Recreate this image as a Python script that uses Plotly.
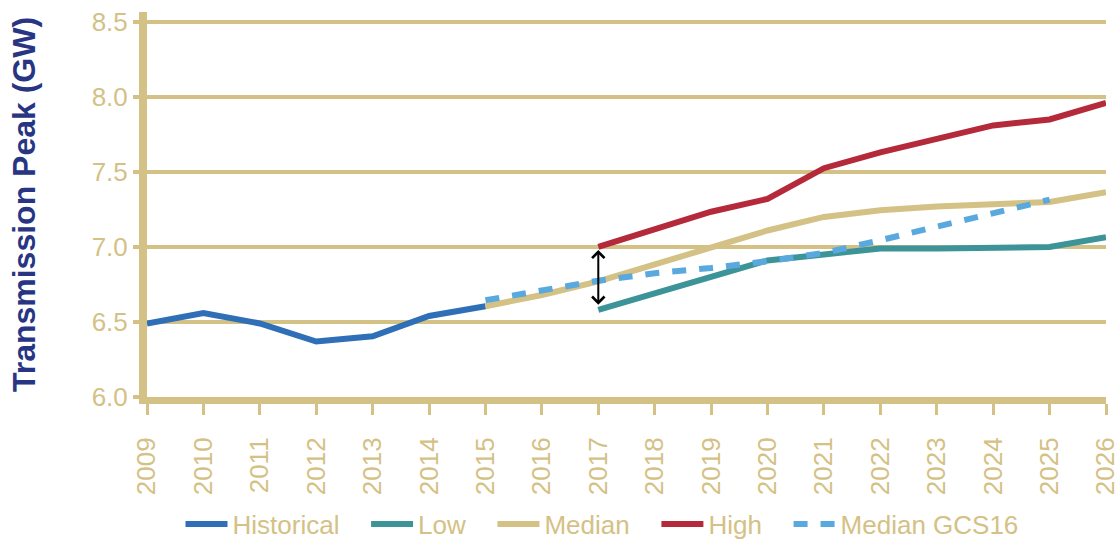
import plotly.graph_objects as go

years_hist = [2009, 2010, 2011, 2012, 2013, 2014, 2015]
historical = [6.49, 6.56, 6.49, 6.37, 6.405, 6.54, 6.605]

years_median = [2015, 2016, 2017, 2018, 2019, 2020, 2021, 2022, 2023, 2024, 2025, 2026]
median = [6.605, 6.68, 6.77, 6.88, 7.0, 7.11, 7.20, 7.245, 7.27, 7.29, 7.30, 7.365]

years_fc = [2017, 2018, 2019, 2020, 2021, 2022, 2023, 2024, 2025, 2026]
low = [6.58, 6.69, 6.80, 6.91, 6.95, 6.99, 6.99, 7.0, 7.0, 7.065]
high = [7.0, 7.12, 7.235, 7.32, 7.525, 7.63, 7.725, 7.81, 7.85, 7.96]

years_gcs = [2015, 2016, 2017, 2018, 2019, 2020, 2021, 2022, 2023, 2024, 2025]
gcs16 = [6.645, 6.71, 6.775, 6.825, 6.86, 6.905, 6.96, 7.045, 7.135, 7.22, 7.315]

x_ticks = list(range(2009, 2027))
y_ticks = [6.0, 6.5, 7.0, 7.5, 8.0, 8.5]

TAN = "#D4C185"
NAVY = "#283583"
FONT = "Liberation Sans, Arial, sans-serif"
PAD = "\u00a0\u00a0\u00a0"

fig = go.Figure()
fig.add_trace(go.Scatter(x=years_hist, y=historical, mode="lines", name="Historical" + PAD,
                         line=dict(color="#2F6FB7", width=6)))
fig.add_trace(go.Scatter(x=years_fc, y=low, mode="lines", name="Low" + PAD,
                         line=dict(color="#3D9498", width=6)))
fig.add_trace(go.Scatter(x=years_median, y=median, mode="lines", name="Median" + PAD,
                         line=dict(color=TAN, width=6)))
fig.add_trace(go.Scatter(x=years_fc, y=high, mode="lines", name="High" + PAD,
                         line=dict(color="#B52A3A", width=6)))
fig.add_trace(go.Scatter(x=years_gcs, y=gcs16, mode="lines", name="Median GCS16",
                         line=dict(color="#5AA9DE", width=6, dash="14px,13px")))

# double arrow between High and Low at 2017
i17 = years_fc.index(2017)
fig.add_annotation(x=2017, y=high[i17] - 0.02, ax=2017, ay=low[i17] + 0.025,
                   xref="x", yref="y", axref="x", ayref="y", text="",
                   showarrow=True, arrowhead=4, startarrowhead=4, arrowside="end+start",
                   arrowsize=1.2, startarrowsize=1.2, arrowwidth=2, arrowcolor="black")

fig.update_layout(
    width=1119, height=540,
    margin=dict(l=147, r=13, t=12, b=143, autoexpand=False),
    plot_bgcolor="white", paper_bgcolor="white",
    font=dict(family=FONT, color=TAN),
    showlegend=True,
    legend=dict(orientation="h", x=602 / 1119, xanchor="center", xref="container",
                y=16 / 540, yanchor="middle", yref="container",
                font=dict(size=26, color=TAN), itemwidth=42, tracegroupgap=0),
    xaxis=dict(range=[2009, 2026], tickmode="array", tickvals=x_ticks,
               ticktext=[str(v) for v in x_ticks], tickangle=-90, automargin=False,
               tickfont=dict(size=26, color=TAN, family=FONT),
               ticklabeloverflow="allow", ticklabelstandoff=12,
               showgrid=False, zeroline=False, showline=True, linecolor=TAN, linewidth=7,
               ticks="outside", ticklen=11, tickwidth=3, tickcolor=TAN),
    yaxis=dict(range=[6.0, 8.566], tickmode="array", tickvals=y_ticks,
               ticktext=[f"{v:.1f}" for v in y_ticks], automargin=False,
               tickfont=dict(size=26, color=TAN, family=FONT),
               showgrid=True, gridcolor=TAN, gridwidth=3.5, zeroline=False,
               showline=True, linecolor=TAN, linewidth=8,
               ticks="outside", ticklen=6, tickwidth=4, tickcolor=TAN,
               title=dict(text="<b>Transmission Peak (GW)</b>", standoff=49,
                          font=dict(size=32, color=NAVY, family=FONT))),
)

fig.write_html("out.html")
